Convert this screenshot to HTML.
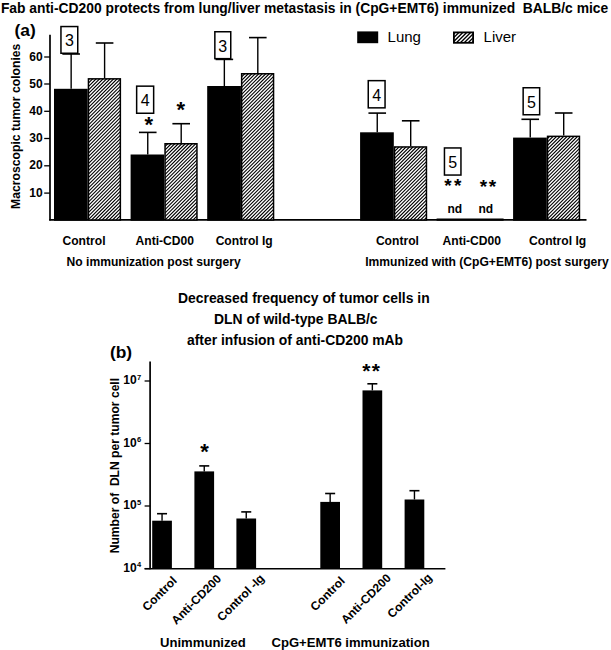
<!DOCTYPE html>
<html><head><meta charset="utf-8"><style>
html,body{margin:0;padding:0;background:#fff;}
svg{display:block;font-family:'Liberation Sans', sans-serif;}
</style></head><body>
<svg width="611" height="650" viewBox="0 0 611 650">
<rect width="611" height="650" fill="#fff"/>
<text x="0.90" y="13.40" font-size="13.85" font-weight="bold" text-anchor="start" >Fab anti-CD200 protects from lung/liver metastasis in (CpG+EMT6) immunized&#160; BALB/c mice</text>
<text x="14.50" y="35.60" font-size="17.4" font-weight="bold" text-anchor="start" >(a)</text>
<line x1="50.00" y1="34.80" x2="50.00" y2="220.60" stroke="#000" stroke-width="1.7"/>
<line x1="49.20" y1="219.90" x2="586.50" y2="219.90" stroke="#000" stroke-width="1.6"/>
<line x1="44.20" y1="193.10" x2="50.00" y2="193.10" stroke="#000" stroke-width="1.3"/>
<text x="42.60" y="196.60" font-size="12" font-weight="bold" text-anchor="end" >10</text>
<line x1="44.20" y1="165.80" x2="50.00" y2="165.80" stroke="#000" stroke-width="1.3"/>
<text x="42.60" y="169.30" font-size="12" font-weight="bold" text-anchor="end" >20</text>
<line x1="44.20" y1="138.50" x2="50.00" y2="138.50" stroke="#000" stroke-width="1.3"/>
<text x="42.60" y="142.00" font-size="12" font-weight="bold" text-anchor="end" >30</text>
<line x1="44.20" y1="111.30" x2="50.00" y2="111.30" stroke="#000" stroke-width="1.3"/>
<text x="42.60" y="114.80" font-size="12" font-weight="bold" text-anchor="end" >40</text>
<line x1="44.20" y1="84.00" x2="50.00" y2="84.00" stroke="#000" stroke-width="1.3"/>
<text x="42.60" y="87.50" font-size="12" font-weight="bold" text-anchor="end" >50</text>
<line x1="44.20" y1="57.00" x2="50.00" y2="57.00" stroke="#000" stroke-width="1.3"/>
<text x="42.60" y="60.50" font-size="12" font-weight="bold" text-anchor="end" >60</text>
<text x="0" y="0" font-size="12.2" font-weight="bold" transform="translate(20.3,208.9) rotate(-90)">Macroscopic tumor colonies</text>
<line x1="71.15" y1="54.00" x2="71.15" y2="88.80" stroke="#000" stroke-width="1.4"/>
<line x1="62.35" y1="54.00" x2="79.95" y2="54.00" stroke="#000" stroke-width="1.6"/>
<line x1="104.60" y1="43.00" x2="104.60" y2="78.10" stroke="#000" stroke-width="1.4"/>
<line x1="95.80" y1="43.00" x2="113.40" y2="43.00" stroke="#000" stroke-width="1.6"/>
<rect x="54.75" y="89.55" width="32.20" height="130.45" fill="#000" stroke="#000" stroke-width="1.5"/>
<clipPath id="hc1"><rect x="88.45" y="78.85" width="31.90" height="141.15"/></clipPath>
<rect x="88.45" y="78.85" width="31.90" height="141.15" fill="#fff"/>
<path clip-path="url(#hc1)" d="M-60.00,221.00L83.15,77.85M-56.50,221.00L86.65,77.85M-53.00,221.00L90.15,77.85M-49.50,221.00L93.65,77.85M-46.00,221.00L97.15,77.85M-42.50,221.00L100.65,77.85M-39.00,221.00L104.15,77.85M-35.50,221.00L107.65,77.85M-32.00,221.00L111.15,77.85M-28.50,221.00L114.65,77.85M-25.00,221.00L118.15,77.85M-21.50,221.00L121.65,77.85M-18.00,221.00L125.15,77.85M-14.50,221.00L128.65,77.85M-11.00,221.00L132.15,77.85M-7.50,221.00L135.65,77.85M-4.00,221.00L139.15,77.85M-0.50,221.00L142.65,77.85M3.00,221.00L146.15,77.85M6.50,221.00L149.65,77.85M10.00,221.00L153.15,77.85M13.50,221.00L156.65,77.85M17.00,221.00L160.15,77.85M20.50,221.00L163.65,77.85M24.00,221.00L167.15,77.85M27.50,221.00L170.65,77.85M31.00,221.00L174.15,77.85M34.50,221.00L177.65,77.85M38.00,221.00L181.15,77.85M41.50,221.00L184.65,77.85M45.00,221.00L188.15,77.85M48.50,221.00L191.65,77.85M52.00,221.00L195.15,77.85M55.50,221.00L198.65,77.85M59.00,221.00L202.15,77.85M62.50,221.00L205.65,77.85M66.00,221.00L209.15,77.85M69.50,221.00L212.65,77.85M73.00,221.00L216.15,77.85M76.50,221.00L219.65,77.85M80.00,221.00L223.15,77.85M83.50,221.00L226.65,77.85M87.00,221.00L230.15,77.85M90.50,221.00L233.65,77.85M94.00,221.00L237.15,77.85M97.50,221.00L240.65,77.85M101.00,221.00L244.15,77.85M104.50,221.00L247.65,77.85M108.00,221.00L251.15,77.85M111.50,221.00L254.65,77.85M115.00,221.00L258.15,77.85M118.50,221.00L261.65,77.85M122.00,221.00L265.15,77.85" stroke="#000" stroke-width="1.22" fill="none"/>
<rect x="88.45" y="78.85" width="31.90" height="141.15" fill="none" stroke="#000" stroke-width="1.5"/>
<line x1="147.75" y1="132.40" x2="147.75" y2="154.50" stroke="#000" stroke-width="1.4"/>
<line x1="138.95" y1="132.40" x2="156.55" y2="132.40" stroke="#000" stroke-width="1.6"/>
<line x1="181.20" y1="123.70" x2="181.20" y2="143.00" stroke="#000" stroke-width="1.4"/>
<line x1="172.40" y1="123.70" x2="190.00" y2="123.70" stroke="#000" stroke-width="1.6"/>
<rect x="131.35" y="155.25" width="32.20" height="64.75" fill="#000" stroke="#000" stroke-width="1.5"/>
<clipPath id="hc2"><rect x="165.05" y="143.75" width="31.90" height="76.25"/></clipPath>
<rect x="165.05" y="143.75" width="31.90" height="76.25" fill="#fff"/>
<path clip-path="url(#hc2)" d="M83.50,221.00L161.75,142.75M87.00,221.00L165.25,142.75M90.50,221.00L168.75,142.75M94.00,221.00L172.25,142.75M97.50,221.00L175.75,142.75M101.00,221.00L179.25,142.75M104.50,221.00L182.75,142.75M108.00,221.00L186.25,142.75M111.50,221.00L189.75,142.75M115.00,221.00L193.25,142.75M118.50,221.00L196.75,142.75M122.00,221.00L200.25,142.75M125.50,221.00L203.75,142.75M129.00,221.00L207.25,142.75M132.50,221.00L210.75,142.75M136.00,221.00L214.25,142.75M139.50,221.00L217.75,142.75M143.00,221.00L221.25,142.75M146.50,221.00L224.75,142.75M150.00,221.00L228.25,142.75M153.50,221.00L231.75,142.75M157.00,221.00L235.25,142.75M160.50,221.00L238.75,142.75M164.00,221.00L242.25,142.75M167.50,221.00L245.75,142.75M171.00,221.00L249.25,142.75M174.50,221.00L252.75,142.75M178.00,221.00L256.25,142.75M181.50,221.00L259.75,142.75M185.00,221.00L263.25,142.75M188.50,221.00L266.75,142.75M192.00,221.00L270.25,142.75M195.50,221.00L273.75,142.75M199.00,221.00L277.25,142.75" stroke="#000" stroke-width="1.22" fill="none"/>
<rect x="165.05" y="143.75" width="31.90" height="76.25" fill="none" stroke="#000" stroke-width="1.5"/>
<line x1="224.35" y1="59.40" x2="224.35" y2="86.00" stroke="#000" stroke-width="1.4"/>
<line x1="215.55" y1="59.40" x2="233.15" y2="59.40" stroke="#000" stroke-width="1.6"/>
<line x1="257.80" y1="37.60" x2="257.80" y2="73.00" stroke="#000" stroke-width="1.4"/>
<line x1="249.00" y1="37.60" x2="266.60" y2="37.60" stroke="#000" stroke-width="1.6"/>
<rect x="207.95" y="86.75" width="32.20" height="133.25" fill="#000" stroke="#000" stroke-width="1.5"/>
<clipPath id="hc3"><rect x="241.65" y="73.75" width="31.90" height="146.25"/></clipPath>
<rect x="241.65" y="73.75" width="31.90" height="146.25" fill="#fff"/>
<path clip-path="url(#hc3)" d="M90.50,221.00L238.75,72.75M94.00,221.00L242.25,72.75M97.50,221.00L245.75,72.75M101.00,221.00L249.25,72.75M104.50,221.00L252.75,72.75M108.00,221.00L256.25,72.75M111.50,221.00L259.75,72.75M115.00,221.00L263.25,72.75M118.50,221.00L266.75,72.75M122.00,221.00L270.25,72.75M125.50,221.00L273.75,72.75M129.00,221.00L277.25,72.75M132.50,221.00L280.75,72.75M136.00,221.00L284.25,72.75M139.50,221.00L287.75,72.75M143.00,221.00L291.25,72.75M146.50,221.00L294.75,72.75M150.00,221.00L298.25,72.75M153.50,221.00L301.75,72.75M157.00,221.00L305.25,72.75M160.50,221.00L308.75,72.75M164.00,221.00L312.25,72.75M167.50,221.00L315.75,72.75M171.00,221.00L319.25,72.75M174.50,221.00L322.75,72.75M178.00,221.00L326.25,72.75M181.50,221.00L329.75,72.75M185.00,221.00L333.25,72.75M188.50,221.00L336.75,72.75M192.00,221.00L340.25,72.75M195.50,221.00L343.75,72.75M199.00,221.00L347.25,72.75M202.50,221.00L350.75,72.75M206.00,221.00L354.25,72.75M209.50,221.00L357.75,72.75M213.00,221.00L361.25,72.75M216.50,221.00L364.75,72.75M220.00,221.00L368.25,72.75M223.50,221.00L371.75,72.75M227.00,221.00L375.25,72.75M230.50,221.00L378.75,72.75M234.00,221.00L382.25,72.75M237.50,221.00L385.75,72.75M241.00,221.00L389.25,72.75M244.50,221.00L392.75,72.75M248.00,221.00L396.25,72.75M251.50,221.00L399.75,72.75M255.00,221.00L403.25,72.75M258.50,221.00L406.75,72.75M262.00,221.00L410.25,72.75M265.50,221.00L413.75,72.75M269.00,221.00L417.25,72.75M272.50,221.00L420.75,72.75M276.00,221.00L424.25,72.75" stroke="#000" stroke-width="1.22" fill="none"/>
<rect x="241.65" y="73.75" width="31.90" height="146.25" fill="none" stroke="#000" stroke-width="1.5"/>
<line x1="377.25" y1="113.10" x2="377.25" y2="132.30" stroke="#000" stroke-width="1.4"/>
<line x1="368.45" y1="113.10" x2="386.05" y2="113.10" stroke="#000" stroke-width="1.6"/>
<line x1="410.70" y1="120.80" x2="410.70" y2="146.20" stroke="#000" stroke-width="1.4"/>
<line x1="401.90" y1="120.80" x2="419.50" y2="120.80" stroke="#000" stroke-width="1.6"/>
<rect x="360.85" y="133.05" width="32.20" height="86.95" fill="#000" stroke="#000" stroke-width="1.5"/>
<clipPath id="hc4"><rect x="394.55" y="146.95" width="31.90" height="73.05"/></clipPath>
<rect x="394.55" y="146.95" width="31.90" height="73.05" fill="#fff"/>
<path clip-path="url(#hc4)" d="M314.50,221.00L389.55,145.95M318.00,221.00L393.05,145.95M321.50,221.00L396.55,145.95M325.00,221.00L400.05,145.95M328.50,221.00L403.55,145.95M332.00,221.00L407.05,145.95M335.50,221.00L410.55,145.95M339.00,221.00L414.05,145.95M342.50,221.00L417.55,145.95M346.00,221.00L421.05,145.95M349.50,221.00L424.55,145.95M353.00,221.00L428.05,145.95M356.50,221.00L431.55,145.95M360.00,221.00L435.05,145.95M363.50,221.00L438.55,145.95M367.00,221.00L442.05,145.95M370.50,221.00L445.55,145.95M374.00,221.00L449.05,145.95M377.50,221.00L452.55,145.95M381.00,221.00L456.05,145.95M384.50,221.00L459.55,145.95M388.00,221.00L463.05,145.95M391.50,221.00L466.55,145.95M395.00,221.00L470.05,145.95M398.50,221.00L473.55,145.95M402.00,221.00L477.05,145.95M405.50,221.00L480.55,145.95M409.00,221.00L484.05,145.95M412.50,221.00L487.55,145.95M416.00,221.00L491.05,145.95M419.50,221.00L494.55,145.95M423.00,221.00L498.05,145.95M426.50,221.00L501.55,145.95" stroke="#000" stroke-width="1.22" fill="none"/>
<rect x="394.55" y="146.95" width="31.90" height="73.05" fill="none" stroke="#000" stroke-width="1.5"/>
<line x1="436.60" y1="219.60" x2="503.60" y2="219.60" stroke="#000" stroke-width="2.2"/>
<line x1="530.25" y1="119.30" x2="530.25" y2="137.60" stroke="#000" stroke-width="1.4"/>
<line x1="521.45" y1="119.30" x2="539.05" y2="119.30" stroke="#000" stroke-width="1.6"/>
<line x1="563.70" y1="113.00" x2="563.70" y2="135.60" stroke="#000" stroke-width="1.4"/>
<line x1="554.90" y1="113.00" x2="572.50" y2="113.00" stroke="#000" stroke-width="1.6"/>
<rect x="513.85" y="138.35" width="32.20" height="81.65" fill="#000" stroke="#000" stroke-width="1.5"/>
<clipPath id="hc5"><rect x="547.55" y="136.35" width="31.90" height="83.65"/></clipPath>
<rect x="547.55" y="136.35" width="31.90" height="83.65" fill="#fff"/>
<path clip-path="url(#hc5)" d="M458.00,221.00L543.65,135.35M461.50,221.00L547.15,135.35M465.00,221.00L550.65,135.35M468.50,221.00L554.15,135.35M472.00,221.00L557.65,135.35M475.50,221.00L561.15,135.35M479.00,221.00L564.65,135.35M482.50,221.00L568.15,135.35M486.00,221.00L571.65,135.35M489.50,221.00L575.15,135.35M493.00,221.00L578.65,135.35M496.50,221.00L582.15,135.35M500.00,221.00L585.65,135.35M503.50,221.00L589.15,135.35M507.00,221.00L592.65,135.35M510.50,221.00L596.15,135.35M514.00,221.00L599.65,135.35M517.50,221.00L603.15,135.35M521.00,221.00L606.65,135.35M524.50,221.00L610.15,135.35M528.00,221.00L613.65,135.35M531.50,221.00L617.15,135.35M535.00,221.00L620.65,135.35M538.50,221.00L624.15,135.35M542.00,221.00L627.65,135.35M545.50,221.00L631.15,135.35M549.00,221.00L634.65,135.35M552.50,221.00L638.15,135.35M556.00,221.00L641.65,135.35M559.50,221.00L645.15,135.35M563.00,221.00L648.65,135.35M566.50,221.00L652.15,135.35M570.00,221.00L655.65,135.35M573.50,221.00L659.15,135.35M577.00,221.00L662.65,135.35M580.50,221.00L666.15,135.35" stroke="#000" stroke-width="1.22" fill="none"/>
<rect x="547.55" y="136.35" width="31.90" height="83.65" fill="none" stroke="#000" stroke-width="1.5"/>
<rect x="60.95" y="26.55" width="16.80" height="26.70" fill="#fff" stroke="#000" stroke-width="1.5"/>
<text x="69.35" y="46.30" font-size="16" font-weight="normal" text-anchor="middle" >3</text>
<rect x="136.65" y="86.15" width="17.00" height="27.10" fill="#fff" stroke="#000" stroke-width="1.5"/>
<text x="145.15" y="106.10" font-size="16" font-weight="normal" text-anchor="middle" >4</text>
<rect x="214.85" y="31.75" width="15.90" height="26.90" fill="#fff" stroke="#000" stroke-width="1.5"/>
<text x="222.80" y="51.60" font-size="16" font-weight="normal" text-anchor="middle" >3</text>
<rect x="368.25" y="80.65" width="16.80" height="27.20" fill="#fff" stroke="#000" stroke-width="1.5"/>
<text x="376.65" y="100.65" font-size="16" font-weight="normal" text-anchor="middle" >4</text>
<rect x="444.45" y="147.95" width="16.50" height="27.10" fill="#fff" stroke="#000" stroke-width="1.5"/>
<text x="452.70" y="167.90" font-size="16" font-weight="normal" text-anchor="middle" >5</text>
<rect x="523.15" y="87.75" width="16.50" height="27.00" fill="#fff" stroke="#000" stroke-width="1.5"/>
<text x="531.40" y="107.65" font-size="16" font-weight="normal" text-anchor="middle" >5</text>
<text x="148.85" y="131.68" font-size="22" font-weight="bold" text-anchor="middle" >*</text>
<text x="180.85" y="117.18" font-size="22" font-weight="bold" text-anchor="middle" >*</text>
<text x="448.05" y="191.63" font-size="19" font-weight="bold" text-anchor="middle" >*</text>
<text x="457.65" y="191.63" font-size="19" font-weight="bold" text-anchor="middle" >*</text>
<text x="483.45" y="192.73" font-size="19" font-weight="bold" text-anchor="middle" >*</text>
<text x="492.55" y="192.73" font-size="19" font-weight="bold" text-anchor="middle" >*</text>
<text x="454.80" y="212.60" font-size="12" font-weight="bold" text-anchor="middle" >nd</text>
<text x="485.80" y="212.60" font-size="12" font-weight="bold" text-anchor="middle" >nd</text>
<rect x="357.20" y="31.40" width="21.00" height="11.80" fill="#000"/>
<text x="387.60" y="42.40" font-size="15" font-weight="normal" text-anchor="start" >Lung</text>
<clipPath id="hc6"><rect x="453.90" y="32.40" width="19.20" height="10.40"/></clipPath>
<rect x="453.90" y="32.40" width="19.20" height="10.40" fill="#fff"/>
<path clip-path="url(#hc6)" d="M435.90,43.80L448.30,31.40M439.80,43.80L452.20,31.40M443.70,43.80L456.10,31.40M447.60,43.80L460.00,31.40M451.50,43.80L463.90,31.40M455.40,43.80L467.80,31.40M459.30,43.80L471.70,31.40M463.20,43.80L475.60,31.40M467.10,43.80L479.50,31.40M471.00,43.80L483.40,31.40M474.90,43.80L487.30,31.40" stroke="#000" stroke-width="1.35" fill="none"/>
<rect x="453.90" y="32.40" width="19.20" height="10.40" fill="none" stroke="#000" stroke-width="1.8"/>
<text x="483.60" y="42.40" font-size="15" font-weight="normal" text-anchor="start" >Liver</text>
<text x="84.00" y="244.80" font-size="12.1" font-weight="bold" text-anchor="middle" >Control</text>
<text x="164.80" y="244.80" font-size="12.1" font-weight="bold" text-anchor="middle" >Anti-CD00</text>
<text x="244.20" y="244.80" font-size="12.1" font-weight="bold" text-anchor="middle" >Control Ig</text>
<text x="397.40" y="244.80" font-size="12.1" font-weight="bold" text-anchor="middle" >Control</text>
<text x="471.80" y="244.80" font-size="12.1" font-weight="bold" text-anchor="middle" >Anti-CD00</text>
<text x="557.60" y="244.80" font-size="12.1" font-weight="bold" text-anchor="middle" >Control Ig</text>
<text x="153.60" y="265.70" font-size="12.1" font-weight="bold" text-anchor="middle" >No immunization post surgery</text>
<text x="487.00" y="265.70" font-size="12.1" font-weight="bold" text-anchor="middle" >Immunized with (CpG+EMT6) post surgery</text>
<text x="178.00" y="302.70" font-size="13.9" font-weight="bold" text-anchor="start" >Decreased frequency of tumor cells in</text>
<text x="214.00" y="323.90" font-size="13.9" font-weight="bold" text-anchor="start" >DLN of wild-type BALB/c</text>
<text x="187.00" y="344.60" font-size="13.9" font-weight="bold" text-anchor="start" >after infusion of anti-CD200 mAb</text>
<text x="109.90" y="357.60" font-size="17.4" font-weight="bold" text-anchor="start" >(b)</text>
<line x1="150.10" y1="361.40" x2="150.10" y2="569.20" stroke="#000" stroke-width="1.7"/>
<line x1="144.60" y1="568.70" x2="445.40" y2="568.70" stroke="#000" stroke-width="1.6"/>
<line x1="144.60" y1="381.00" x2="150.10" y2="381.00" stroke="#000" stroke-width="1.3"/>
<text x="136.6" y="384.20" font-size="12" font-weight="bold" text-anchor="end">10</text>
<text x="137.0" y="379.80" font-size="7.5" font-weight="bold">7</text>
<line x1="144.60" y1="443.50" x2="150.10" y2="443.50" stroke="#000" stroke-width="1.3"/>
<text x="136.6" y="446.70" font-size="12" font-weight="bold" text-anchor="end">10</text>
<text x="137.0" y="442.30" font-size="7.5" font-weight="bold">6</text>
<line x1="144.60" y1="506.00" x2="150.10" y2="506.00" stroke="#000" stroke-width="1.3"/>
<text x="136.6" y="509.20" font-size="12" font-weight="bold" text-anchor="end">10</text>
<text x="137.0" y="504.80" font-size="7.5" font-weight="bold">5</text>
<line x1="144.60" y1="568.60" x2="150.10" y2="568.60" stroke="#000" stroke-width="1.3"/>
<text x="136.6" y="571.80" font-size="12" font-weight="bold" text-anchor="end">10</text>
<text x="137.0" y="567.40" font-size="7.5" font-weight="bold">4</text>
<text x="0" y="0" font-size="12.1" font-weight="bold" transform="translate(119.4,553.3) rotate(-90)">Number of&#160; DLN per tumor cell</text>
<line x1="162.05" y1="513.70" x2="162.05" y2="520.70" stroke="#000" stroke-width="1.4"/>
<line x1="157.05" y1="513.70" x2="167.05" y2="513.70" stroke="#000" stroke-width="1.6"/>
<rect x="152.20" y="520.70" width="19.70" height="47.90" fill="#000"/>
<line x1="204.25" y1="465.90" x2="204.25" y2="471.40" stroke="#000" stroke-width="1.4"/>
<line x1="199.25" y1="465.90" x2="209.25" y2="465.90" stroke="#000" stroke-width="1.6"/>
<rect x="194.40" y="471.40" width="19.70" height="97.20" fill="#000"/>
<line x1="246.25" y1="511.90" x2="246.25" y2="518.50" stroke="#000" stroke-width="1.4"/>
<line x1="241.25" y1="511.90" x2="251.25" y2="511.90" stroke="#000" stroke-width="1.6"/>
<rect x="236.40" y="518.50" width="19.70" height="50.10" fill="#000"/>
<line x1="330.15" y1="493.50" x2="330.15" y2="501.90" stroke="#000" stroke-width="1.4"/>
<line x1="325.15" y1="493.50" x2="335.15" y2="493.50" stroke="#000" stroke-width="1.6"/>
<rect x="320.30" y="501.90" width="19.70" height="66.70" fill="#000"/>
<line x1="372.35" y1="383.80" x2="372.35" y2="390.40" stroke="#000" stroke-width="1.4"/>
<line x1="367.35" y1="383.80" x2="377.35" y2="383.80" stroke="#000" stroke-width="1.6"/>
<rect x="362.50" y="390.40" width="19.70" height="178.20" fill="#000"/>
<line x1="414.45" y1="490.70" x2="414.45" y2="499.50" stroke="#000" stroke-width="1.4"/>
<line x1="409.45" y1="490.70" x2="419.45" y2="490.70" stroke="#000" stroke-width="1.6"/>
<rect x="404.60" y="499.50" width="19.70" height="69.10" fill="#000"/>
<text x="204.65" y="459.28" font-size="22" font-weight="bold" text-anchor="middle" >*</text>
<text x="366.45" y="378.43" font-size="21" font-weight="bold" text-anchor="middle" >*</text>
<text x="375.85" y="378.43" font-size="21" font-weight="bold" text-anchor="middle" >*</text>
<text x="0" y="0" font-size="12" font-weight="bold" text-anchor="end" transform="translate(177.5,581.5) rotate(-45)">Control</text>
<text x="0" y="0" font-size="12" font-weight="bold" text-anchor="end" transform="translate(222.0,579.5) rotate(-45)">Anti-CD200</text>
<text x="0" y="0" font-size="12" font-weight="bold" text-anchor="end" transform="translate(265.0,579.0) rotate(-45)">Control -Ig</text>
<text x="0" y="0" font-size="12" font-weight="bold" text-anchor="end" transform="translate(345.5,581.7) rotate(-45)">Control</text>
<text x="0" y="0" font-size="12" font-weight="bold" text-anchor="end" transform="translate(391.7,578.8) rotate(-45)">Anti-CD200</text>
<text x="0" y="0" font-size="12" font-weight="bold" text-anchor="end" transform="translate(432.8,578.3) rotate(-45)">Control-Ig</text>
<text x="160.00" y="646.90" font-size="13.1" font-weight="bold" text-anchor="start" >Unimmunized</text>
<text x="350.60" y="646.90" font-size="13.1" font-weight="bold" text-anchor="middle" >CpG+EMT6 immunization</text>
</svg>
</body></html>
